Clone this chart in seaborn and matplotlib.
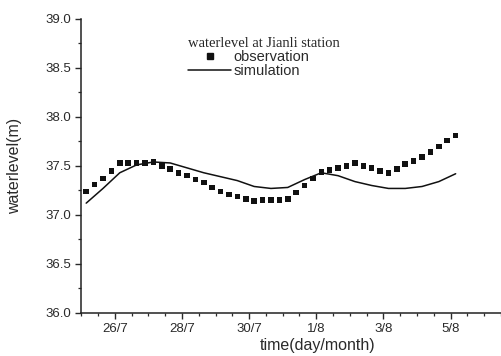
import numpy as np
import pandas as pd
import matplotlib
matplotlib.use("Agg")
import matplotlib.pyplot as plt
from matplotlib.ticker import MultipleLocator
from matplotlib.lines import Line2D
import seaborn as sns

# ---- data (day numbers: July d -> d, August d -> 31 + d) ----
obs_day = [25.15, 25.40, 25.65, 25.90, 26.15, 26.40, 26.65, 26.90, 27.15, 27.40,
           27.65, 27.90, 28.15, 28.40, 28.65, 28.90, 29.15, 29.40, 29.65, 29.90,
           30.15, 30.40, 30.65, 30.90, 31.15, 31.40, 31.65, 31.90, 32.15, 32.40,
           32.65, 32.90, 33.15, 33.40, 33.65, 33.90, 34.15, 34.40, 34.65, 34.90,
           35.15, 35.40, 35.65, 35.90, 36.15]
obs_level = [37.24, 37.31, 37.37, 37.45, 37.53, 37.53, 37.53, 37.53, 37.54, 37.50,
             37.47, 37.43, 37.40, 37.36, 37.33, 37.28, 37.24, 37.21, 37.19, 37.16,
             37.14, 37.15, 37.15, 37.15, 37.16, 37.23, 37.30, 37.37, 37.44, 37.46,
             37.48, 37.50, 37.53, 37.50, 37.48, 37.45, 37.43, 37.47, 37.52, 37.55,
             37.59, 37.64, 37.70, 37.76, 37.81]

sim_day = [25.15, 25.65, 26.15, 26.65, 27.15, 27.65, 28.15, 28.65, 29.15, 29.65,
           30.15, 30.65, 31.15, 31.65, 32.15, 32.65, 33.15, 33.65, 34.15, 34.65,
           35.15, 35.65, 36.15]
sim_level = [37.12, 37.27, 37.43, 37.51, 37.54, 37.53, 37.48, 37.43, 37.39, 37.35,
             37.29, 37.27, 37.28, 37.36, 37.43, 37.40, 37.34, 37.30, 37.27, 37.27,
             37.29, 37.34, 37.42]

xtick_pos = [26, 28, 30, 32, 34, 36]
xtick_labels = ["26/7", "28/7", "30/7", "1/8", "3/8", "5/8"]
ytick_pos = [36.0, 36.5, 37.0, 37.5, 38.0, 38.5, 39.0]

obs_df = pd.DataFrame({"day": obs_day, "level": obs_level})
sim_df = pd.DataFrame({"day": sim_day, "level": sim_level})

sns.set_style("ticks")
plt.rcParams["font.family"] = ["Liberation Sans", "DejaVu Sans"]

fig = plt.figure(figsize=(5.01, 3.56), dpi=100)
ax = fig.add_axes([0.162, 0.121, 0.838, 0.826])

sns.lineplot(data=sim_df, x="day", y="level", ax=ax, color="#111111",
             linewidth=1.1, legend=False)
sns.scatterplot(data=obs_df, x="day", y="level", ax=ax, marker="s", s=16,
                color="#111111", edgecolor="none", legend=False)

ax.set_xlim(25, 37.5)
ax.set_ylim(36, 39)
ax.set_xticks(xtick_pos)
ax.set_xticklabels(xtick_labels)
ax.xaxis.set_minor_locator(MultipleLocator(0.5))
ax.set_yticks(ytick_pos)
ax.set_yticklabels([f"{v:.1f}" for v in ytick_pos])
ax.yaxis.set_minor_locator(MultipleLocator(0.25))

tc = "#2a2a2a"
ax.tick_params(axis="both", which="major", length=4, width=1.0, labelsize=9.5,
               colors=tc, direction="out", pad=3)
ax.tick_params(axis="both", which="minor", length=2.5, width=0.9, colors=tc,
               direction="out")
for s in ["top", "right"]:
    ax.spines[s].set_visible(False)
for s in ["left", "bottom"]:
    ax.spines[s].set_linewidth(1.1)
    ax.spines[s].set_color("#222222")

ax.set_xlabel("time(day/month)", fontsize=11.5, color=tc)
ax.set_ylabel("waterlevel(m)", fontsize=11.5, color=tc)
ax.xaxis.set_label_coords(0.564, -0.085)
ax.yaxis.set_label_coords(-0.14, 0.5)

handles = [
    Line2D([], [], linestyle="none", marker="s", markersize=4, color="#111111"),
    Line2D([], [], color="#111111", linewidth=1.1),
]
leg = ax.legend(handles, ["observation", "simulation"], loc="upper left",
                bbox_to_anchor=(0.36, 0.917), bbox_transform=fig.transFigure,
                frameon=False, fontsize=10.5, handlelength=3.0, handletextpad=0.15,
                borderpad=0, labelspacing=0.0,
                title="waterlevel at Jianli station", alignment="left")
leg.get_title().set_fontfamily(["Liberation Serif", "DejaVu Serif"])
leg.get_title().set_fontsize(10.5)
for t in leg.get_texts():
    t.set_color(tc)

fig.savefig("out.png", dpi=100)
